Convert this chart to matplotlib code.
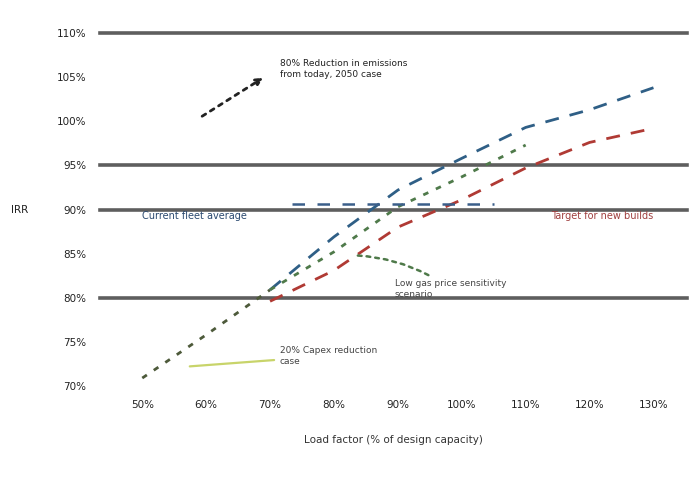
import matplotlib
matplotlib.use("Agg")
import matplotlib.pyplot as plt

# ---- data (estimated) ----
x_ticks = [50, 60, 70, 80, 90, 100, 110, 120, 130]
x_tick_labels = ["50%", "60%", "70%", "80%", "90%", "100%", "110%", "120%", "130%"]
y_ticks = [70, 75, 80, 85, 90, 95, 100, 105, 110]
y_tick_labels = ["70%", "75%", "80%", "85%", "90%", "95%", "100%", "105%", "110%"]
ref_levels = [80, 90, 95, 110]

shared_x = [50, 60, 70]
shared_y = [70.9, 75.8, 80.9]

blue_x = [70, 80, 90, 100, 110, 120, 130]
blue_y = [80.9, 86.9, 92.2, 95.8, 99.3, 101.3, 103.8]

green_x = [70, 80, 90, 100, 110]
green_y = [80.9, 85.2, 90.3, 93.7, 97.3]

red_x = [70, 80, 90, 100, 110, 120, 130]
red_y = [79.6, 83.1, 88.0, 91.1, 94.7, 97.6, 99.2]

flat_x = [73.5, 105]
flat_y = [90.6, 90.6]

fig = plt.figure(figsize=(7, 5), dpi=100)
ax = fig.add_axes([0.143, 0.228, 0.838, 0.706])

for lv in ref_levels:
    ax.axhline(lv, color="#5e5e5e", lw=2.6, zorder=1, clip_on=False)

ax.plot(shared_x, shared_y, color="#4d5a3a", lw=2, ls=(0, (2, 3)), zorder=3)
ax.plot(blue_x, blue_y, color="#2f5f86", lw=2, ls=(0, (5, 4)), zorder=3)
ax.plot(green_x, green_y, color="#4f7a4a", lw=2, ls=(0, (2, 3)), zorder=3)
ax.plot(red_x, red_y, color="#b03a34", lw=2, ls=(0, (5, 4)), zorder=3)
ax.plot(flat_x, flat_y, color="#3b5f8a", lw=1.8, ls=(0, (5, 5)), zorder=3)

ax.set_xlim(43.4, 135.2)
ax.set_ylim(70, 110)
ax.set_xticks(x_ticks)
ax.set_xticklabels(x_tick_labels, fontsize=7.5, color="#222")
ax.set_yticks(y_ticks)
ax.set_yticklabels(y_tick_labels, fontsize=7.5, color="#222")
ax.tick_params(length=0, pad=10)
for s in ax.spines.values():
    s.set_visible(False)

ax.set_xlabel("Load factor (% of design capacity)", fontsize=7.5, color="#333", labelpad=18)
fig.text(0.015, 0.58, "IRR", fontsize=7.5, color="#222", va="center")

# annotations
ax.text(71.5, 105.9, "80% Reduction in emissions\nfrom today, 2050 case",
        fontsize=6.5, color="#222", va="center", ha="left", linespacing=1.3)
ax.annotate("", xy=(69.3, 105.1), xytext=(59, 100.4),
            arrowprops=dict(arrowstyle="-|>", ls=(0, (1.5, 2)), lw=2, color="#222"))

ax.text(50, 89.3, "Current fleet average", fontsize=7, color="#2b4a70", va="center", ha="left")
ax.text(130, 89.3, "Target for new builds", fontsize=7, color="#a04040", va="center", ha="right")

ax.annotate("Low gas price sensitivity\nscenario", xy=(83.3, 84.8), xytext=(89.5, 81.0),
            fontsize=6.5, color="#444", va="center", ha="left",
            arrowprops=dict(arrowstyle="-", ls=(0, (1.5, 2)), lw=1.8, color="#4f7a4a",
                            connectionstyle="arc3,rad=0.15"))

ax.annotate("20% Capex reduction\ncase", xy=(57, 72.2), xytext=(71.5, 73.4),
            fontsize=6.5, color="#444", va="center", ha="left",
            arrowprops=dict(arrowstyle="-", lw=1.6, color="#c8d46a"))

fig.savefig("out.png", dpi=100)
